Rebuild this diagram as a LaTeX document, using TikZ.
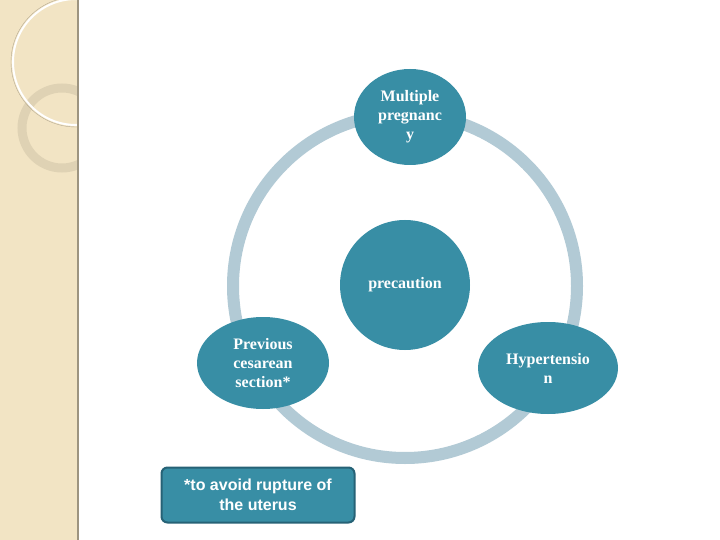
\documentclass[tikz,border=0pt]{standalone}
\usepackage{fontspec}
\usetikzlibrary{shapes.geometric}
\setmainfont{Liberation Serif}
\setsansfont{Liberation Sans}
\definecolor{tealc}{RGB}{56,142,165}
\definecolor{ringc}{RGB}{178,202,213}
\definecolor{beigec}{RGB}{242,228,196}
\definecolor{boxedge}{RGB}{38,98,118}
\begin{document}
\begin{tikzpicture}[x=1pt,y=-1pt,blob/.style={ellipse,fill=tealc,text=white,font=\bfseries\fontsize{16}{19}\selectfont,align=center,inner sep=0pt}]
\useasboundingbox (0,0) rectangle (720,540);
\fill[white] (0,0) rectangle (720,540);
\begin{scope}
\clip (0,0) rectangle (78,540);
\fill[beigec] (0,0) rectangle (78,540);
\draw[line width=9pt,color=black!8!beigec] (62,128) circle (40);
\draw[line width=2pt,white] (76,62) circle (63);
\draw[black!25!beigec,line width=0.4pt] (76,62) circle (65);
\end{scope}
\draw[black!35!beigec,line width=1.5pt] (78,0) -- (78,540);
\draw[ringc,line width=12pt] (405,286) circle (172);
\node[blob,minimum width=112pt,minimum height=96pt] (top) at (410,117) {Multiple\\pregnanc\\y};
\node[blob,circle,minimum size=130pt] (mid) at (405,285) {precaution};
\node[blob,minimum width=132pt,minimum height=92pt] (left) at (263,363) {Previous\\cesarean\\section*};
\node[blob,minimum width=140pt,minimum height=92pt] (right) at (548,368) {Hypertensio\\n};
\node[draw=boxedge,line width=2pt,fill=tealc,rounded corners=6pt,minimum width=193pt,minimum height=55pt,text=white,align=center,font=\sffamily\bfseries\fontsize{16}{20}\selectfont] (note) at (258,495) {*to avoid rupture of\\the uterus};
\end{tikzpicture}
\end{document}
